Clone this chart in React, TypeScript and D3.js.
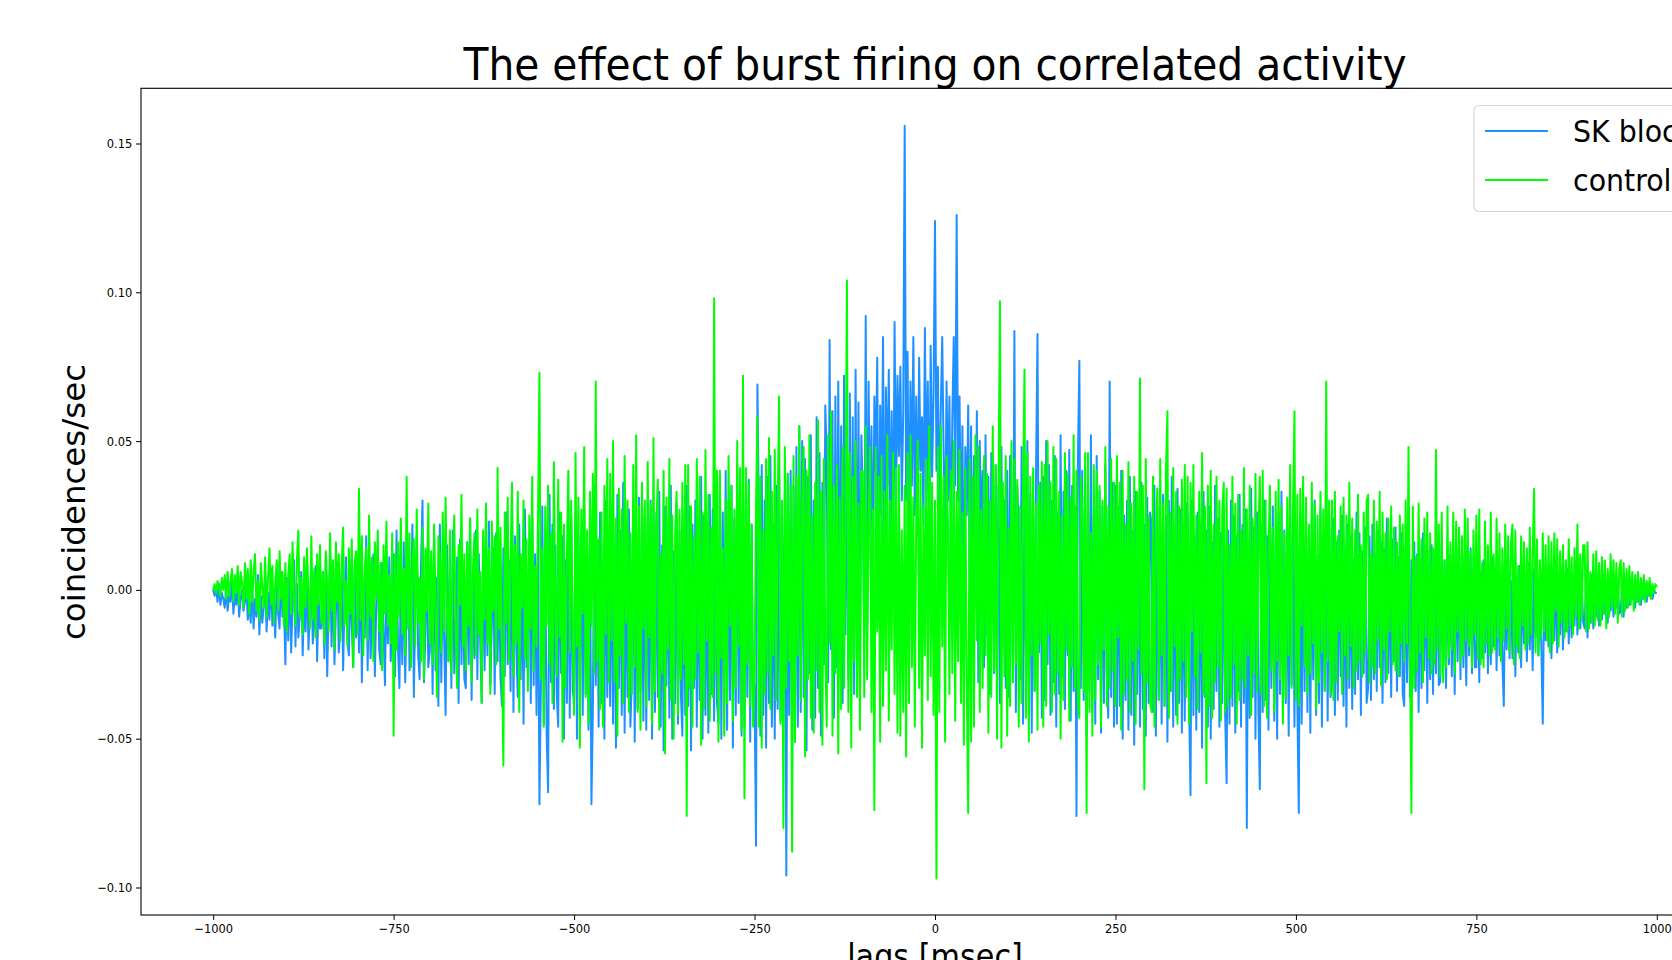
import * as d3 from "d3";
import { useEffect, useRef } from "react";

const W = 1672;
const H = 960;

// lags in msec, one sample every 2 msec
const lagStep = 2;
const lags = d3.range(-1000, 1000 + lagStep, lagStep);

const xTicks = [-1000, -750, -500, -250, 0, 250, 500, 750, 1000];
const yTicks = [-0.1, -0.05, 0, 0.05, 0.1, 0.15];

const seriesNames = ["SK blockers", "control"];
const seriesColors = ["#1e90ff", "#00ff00"];

// coincidences/sec in units of 1e-3, one row per 50 msec
const skBlockMilli = [
  0,-2,1,-4,2,-5,-1,-3,-6,1,-7,-2,-4,3,-8,-1,-5,2,-9,-3,0,-7,-4,1,-10,
  -4,-11,2,-13,-3,-9,5,-15,-2,-11,-6,4,-14,-1,-10,7,-12,-5,-16,3,-8,-13,6,-9,-4,
  -25,4,-17,8,-21,-6,10,-19,2,-16,-9,6,-22,-3,-14,9,-20,-7,5,-18,-11,8,-24,-2,-13,
  -13,6,-23,10,-29,-4,12,-19,5,-25,-8,9,-21,-14,7,-27,-3,11,-17,-22,4,-12,-26,8,-16,
  8,-21,14,-31,2,-16,18,-27,6,-23,-10,12,-29,-4,15,-20,-25,9,-14,-32,5,-18,11,-24,-7,
  12,-29,20,-19,-33,4,-25,16,-31,-8,14,-27,-12,22,-36,-5,18,-22,-30,9,30,-31,-15,13,-26,
  -21,10,-35,18,-27,4,-39,22,-31,8,-17,-42,15,-24,6,-33,20,-28,-12,11,-38,17,-25,2,-30,
  -33,16,-25,24,-37,6,-23,20,-30,12,-18,-38,18,-27,9,-22,23,-32,-12,14,-35,19,-24,7,-29,
  -39,14,-29,26,-25,10,-34,30,-41,18,-20,-36,22,-30,8,-45,27,-26,-15,16,-38,24,-32,12,-42,
  20,-72,-33,28,-45,12,-49,-68,32,-31,22,-40,15,-35,-46,26,-28,18,-50,10,-38,30,-43,24,-34,
  -37,25,-50,18,-30,20,-42,28,-35,12,-47,22,-72,-41,35,-32,16,-46,26,-38,10,-50,30,-36,19,
  -39,28,-45,15,-53,32,-33,20,-42,36,-48,14,-36,27,-46,-30,22,-51,18,-40,31,-34,12,-44,25,
  -47,24,-37,30,-50,18,-41,26,-36,33,-46,15,-54,28,-32,21,-43,35,-50,13,-38,29,-45,20,-35,
  -49,20,-42,35,-39,28,-54,22,-33,30,-46,17,-37,38,-50,25,-42,14,-48,32,-35,27,-44,19,-38,
  -45,38,-50,26,-41,40,-47,30,-37,35,-53,24,-42,42,-38,20,-49,33,-46,28,-36,37,-51,22,-40,
  -32,-86,69,25,-49,42,-42,30,-53,38,-38,45,-46,22,-50,35,-40,41,-44,28,-35,33,-96,39,-42,
  40,-59,35,-51,48,-46,55,-41,50,-36,44,-54,38,-28,52,-47,30,-43,58,-33,46,-49,36,-25,62,
  45,-31,84,-20,60,-43,65,-26,70,-21,55,-38,72,-15,48,-30,66,-24,58,-35,74,-18,63,-28,52,
  30,-16,92,-11,70,20,55,-6,65,40,78,-10,62,25,85,-4,68,35,74,15,60,5,90,28,72,
  45,75,30,60,156,30,80,10,70,35,85,25,65,18,78,40,58,22,88,32,70,12,82,38,66,
  124,40,75,20,60,85,45,15,70,30,65,10,58,85,35,126,30,65,15,55,-10,48,25,62,5,
  55,-21,45,10,60,-31,50,20,40,-26,52,-15,38,-35,46,5,-28,42,-20,35,-38,48,-12,30,-33,
  40,-36,45,10,-25,87,-41,35,20,-30,48,-45,28,-22,50,-38,32,-48,25,-34,40,86,-21,36,-43,
  38,-37,50,-25,42,-42,30,-31,45,-46,26,-35,52,-29,33,-40,40,-22,47,-44,35,-34,28,-76,44,
  77,-33,40,-37,35,-49,30,-34,52,-41,25,-45,45,-30,33,-48,28,-38,42,-28,-43,70,-36,36,-46,
  35,-45,28,-39,40,-50,25,-37,30,-47,38,-42,20,-52,33,-35,27,-46,36,-40,22,-49,31,-38,26,
  22,-41,35,-49,28,-37,20,-45,32,-39,25,-51,30,-34,38,-46,18,-42,34,-38,27,-48,21,-44,29,
  25,-38,-69,30,-42,18,-47,26,-41,22,-53,33,-36,20,-46,28,-50,16,-40,35,-34,24,-46,19,-38,
  28,-42,-65,20,-45,30,-39,25,-48,18,-34,32,-46,22,-38,27,-80,15,-43,34,-36,21,-50,26,-40,
  -67,22,-41,30,-37,18,-47,24,-33,28,-44,15,-50,26,-35,33,-42,20,-38,12,-49,29,-32,23,-46,
  20,-39,-75,26,-45,15,-34,22,-41,18,-48,24,-30,30,-42,12,-38,27,-46,16,-34,21,-44,25,-36,
  -31,24,-42,16,-37,20,-29,25,-39,14,-46,22,-33,18,-40,10,-35,26,-30,19,-42,13,-28,21,-38,
  -33,18,-37,22,-30,12,-34,20,-26,16,-38,14,-31,24,-28,9,-36,17,-24,21,-34,11,-29,19,-35,
  -39,14,-31,18,-36,10,-29,16,-34,12,-41,8,-33,19,-27,13,-38,6,-30,15,-35,11,-28,17,-32,
  -31,15,-27,10,-33,14,-25,12,-29,8,-35,13,-24,9,-30,16,-26,5,-32,11,-22,14,-28,7,-26,
  -26,12,-31,6,-23,10,-21,8,-28,5,-25,11,-19,7,-27,9,-22,4,-24,-39,6,-20,10,-23,3,
  -23,10,-29,4,-21,8,-26,6,-18,3,-24,9,-20,2,-27,7,-16,5,-22,1,-19,-45,4,-17,6,
  -19,8,-23,4,-17,6,-21,2,-15,5,-20,3,-14,7,-18,1,-16,4,-12,6,-15,2,-13,3,-11,
  -13,4,-16,2,-11,5,-13,1,-9,3,-12,2,-10,4,-8,1,-11,3,-7,0,-9,2,-6,1,-8,
  -7,2,-9,1,-6,3,-5,0,-3,1,-6,2,-4,0,-5,1,-3,2,-4,0,-2,1,-3,0,-1,
  -1,
];

const controlMilli = [
  0,2,-1,3,1,-2,4,0,5,-3,6,-2,3,7,-4,5,-1,8,-5,6,2,-6,9,-3,7,
  -8,10,-4,6,12,-7,3,-10,9,1,-6,11,-9,4,14,-5,8,-11,2,10,-7,13,-3,6,-12,
  9,-14,5,12,-8,16,-3,-12,10,20,-9,4,-15,11,-6,14,-2,-13,18,-10,7,-16,12,-5,15,
  -11,6,-18,13,2,-14,19,-7,10,-20,16,-4,12,-17,8,21,-12,3,-19,14,-8,17,-26,9,13,
  -15,34,-10,18,-22,7,14,-17,25,-9,11,-24,16,-3,20,-14,9,-27,15,-8,23,-12,5,-18,19,
  -49,12,-20,16,-9,24,-15,7,-22,38,-13,19,-26,10,17,-19,27,-11,4,-24,21,-30,14,-7,29,
  -18,13,-25,22,-6,-36,18,11,-21,26,-14,31,-9,-24,20,-28,8,25,-16,-33,15,-5,32,-19,12,
  -27,16,-12,24,-31,8,19,-22,27,-15,6,-38,20,-10,29,-18,14,-35,23,-7,18,-25,41,-13,21,
  -20,-59,26,-11,31,-24,9,36,-29,15,-18,33,-41,12,-6,30,-23,17,-34,25,-13,38,-27,8,-19,
  24,73,-30,14,-46,28,-12,35,-25,19,-38,43,-9,-29,37,-16,26,-51,22,-33,11,40,-21,30,-14,
  -42,46,-19,31,-53,27,-8,48,-36,20,-45,33,-12,39,-28,70,-24,17,-40,26,-46,35,-15,44,-31,
  39,-17,50,-31,24,-49,34,-22,27,-38,45,-11,30,-41,19,-35,42,-26,52,-41,28,-47,36,-13,30,
  -39,43,-16,29,-45,51,-34,22,37,-47,12,-28,40,-55,31,-20,44,-37,25,-50,18,33,-42,27,-30,
  36,-25,42,-76,42,-33,28,-46,18,-30,44,-21,38,-52,26,-40,47,-17,32,-44,21,-36,98,-28,40,
  -51,40,-23,14,-49,30,-38,45,-12,35,-44,27,-33,50,-19,41,-47,72,-70,41,-25,36,-39,22,-46,
  -31,28,58,-46,38,-53,20,-35,44,-28,51,-40,33,-22,47,-37,26,65,-45,30,-80,48,-33,39,-24,
  35,-88,45,-51,38,-22,55,-37,29,48,-56,40,-30,52,-43,25,-48,36,-27,57,-41,33,-52,44,-20,
  -46,52,-18,60,-49,35,-28,42,-55,31,-40,48,-33,25,104,-41,46,-53,38,-24,50,-36,29,-47,40,
  40,-36,55,-30,22,48,-41,27,-74,48,-14,38,-51,45,-39,33,-27,52,-44,30,-20,46,-35,41,-48,
  42,-49,20,-41,35,-56,46,-38,52,-26,31,-46,24,50,-33,39,-53,28,-22,44,-37,55,-29,36,-42,
  30,-97,48,-41,55,-19,38,-51,45,22,-35,40,-28,50,-44,33,-24,47,-38,26,-52,41,-30,-75,44,
  -51,38,-46,52,-17,48,-41,27,-33,45,-22,39,-48,30,-36,55,-27,42,-50,34,97,-53,36,-29,45,
  -49,21,-39,50,-31,44,-25,37,-46,28,-38,33,74,-43,46,-51,38,-22,41,-34,29,-47,35,-18,43,
  -46,42,-39,50,-15,36,-41,48,-35,44,-28,33,-50,25,-37,46,-20,39,-44,31,-26,52,-33,40,-38,
  -43,38,27,-34,46,-75,46,-41,19,-49,42,-37,40,-25,35,-46,30,-20,48,-39,28,-33,44,-27,36,
  -39,45,-16,36,-47,40,-35,22,-30,43,-41,29,-24,38,-45,33,-20,71,-28,35,-67,44,-31,25,-38,
  -41,38,-46,17,34,-37,44,-22,29,-39,40,60,-43,26,-34,41,-19,33,-45,28,-30,37,-24,42,-36,
  38,-45,36,-14,42,-29,25,-40,33,-21,46,-35,28,-65,35,-39,40,-43,22,-31,38,-26,30,-44,27,
  36,-41,34,-39,15,-36,38,-25,29,-45,32,-37,20,-30,41,-33,27,-22,35,-42,24,-28,39,-34,18,
  38,-35,40,-39,30,-43,13,35,-27,21,-41,33,-24,37,-30,28,-45,19,-36,31,-22,42,-33,26,60,
  -37,32,-39,34,-12,38,-26,31,-35,22,-28,36,-18,29,-40,25,-31,33,-21,27,-34,70,-24,30,-35,
  30,-37,33,-31,18,-14,28,-35,31,-22,25,-30,36,-19,24,-33,20,-27,32,-24,15,-29,26,-21,30,
  32,-31,12,-26,30,-28,23,-17,33,-32,26,-20,19,-30,24,-14,28,-25,21,-27,16,-29,25,-18,22,
  -24,30,-18,48,-20,-75,28,-33,11,-27,29,-21,17,-31,24,-16,26,-23,19,-28,14,-25,47,-20,22,
  -29,26,-31,10,-26,28,-23,16,-20,26,-28,23,-14,21,-25,18,-22,27,-17,24,-19,13,-26,20,-15,
  25,-23,27,-25,9,-26,23,-18,15,-22,26,-21,12,-20,24,-16,19,-24,14,-17,22,-13,18,-21,16,
  22,-25,20,-19,8,-23,18,-12,16,-20,14,-18,21,-15,12,34,-21,17,-22,10,-16,19,-14,15,-17,
  18,-21,16,-18,19,-7,17,-19,13,-11,15,-16,10,-14,17,-12,11,-15,14,-9,22,-13,12,-10,15,
  15,-14,16,-13,6,-11,12,-12,13,-10,9,-12,11,-8,10,-13,7,-9,12,-6,10,-8,9,-11,7,
  10,-9,9,-7,7,-6,8,-5,6,-7,5,-4,6,-5,4,-3,5,-4,3,-2,4,-3,2,-1,2,
  1,
];

const FONT = "DejaVu Sans";
const SQUEEZE = 0.917; // the source render is a little narrow

export default function App() {
  const ref = useRef<SVGSVGElement>(null);

  useEffect(() => {
    const svg = d3.select(ref.current);
    svg.selectAll("*").remove();

    const left = 141, right = 1729, top = 88.3, bottom = 915;

    const x = d3.scaleLinear().domain([-1100, 1100]).range([left, right]);
    const y = d3.scaleLinear().domain([-0.1, 0.15]).range([887.5, 143.5]);

    const line = d3.line<number>()
      .defined((_, i) => i < lags.length)
      .x((_, i) => x(lags[i]))
      .y(v => y(v / 1000));

    // SK first, control drawn on top
    [skBlockMilli, controlMilli].forEach((vals, k) => {
      svg.append("path")
        .datum(vals)
        .attr("fill", "none")
        .attr("stroke", seriesColors[k])
        .attr("stroke-width", 2)
        .attr("stroke-linejoin", "round")
        .attr("d", line);
    });

    // frame
    svg.append("rect")
      .attr("x", left).attr("y", top)
      .attr("width", right - left).attr("height", bottom - top)
      .attr("fill", "none")
      .attr("stroke", "#000")
      .attr("stroke-width", 1.1);

    // axes
    const gx = svg.append("g")
      .attr("transform", `translate(0,${bottom})`)
      .call(d3.axisBottom(x).tickValues(xTicks).tickFormat(d3.format("d"))
        .tickSize(5).tickPadding(4.5).tickSizeOuter(0));
    gx.select(".domain").remove();
    gx.attr("font-family", FONT).attr("font-size", 12.5);
    gx.selectAll("text").attr("fill", "#000").attr("transform", `scale(${SQUEEZE},1)`);

    const gy = svg.append("g")
      .attr("transform", `translate(${left},0)`)
      .call(d3.axisLeft(y).tickValues(yTicks).tickFormat(d3.format(".2f"))
        .tickSize(5).tickPadding(4.5).tickSizeOuter(0));
    gy.select(".domain").remove();
    gy.attr("font-family", FONT).attr("font-size", 12.5);
    gy.selectAll("text").attr("fill", "#000").attr("transform", `scale(${SQUEEZE},1)`);

    // title and labels
    svg.append("text")
      .attr("transform", `translate(935,80) scale(${SQUEEZE},1)`)
      .attr("text-anchor", "middle")
      .attr("font-family", FONT)
      .attr("font-size", 44.5)
      .text("The effect of burst firing on correlated activity");

    svg.append("text")
      .attr("transform", "translate(85,502) rotate(-90)")
      .attr("text-anchor", "middle")
      .attr("font-family", FONT)
      .attr("font-size", 32.5)
      .text("coincidences/sec");

    svg.append("text")
      .attr("transform", `translate(935,968) scale(${SQUEEZE},1)`)
      .attr("text-anchor", "middle")
      .attr("font-family", FONT)
      .attr("font-size", 33)
      .text("lags [msec]");

    // legend
    const lg = svg.append("g");
    lg.append("rect")
      .attr("x", 1474).attr("y", 105.5)
      .attr("width", 320).attr("height", 106)
      .attr("rx", 5)
      .attr("fill", "#fff").attr("fill-opacity", 0.8)
      .attr("stroke", "#d6d6d6").attr("stroke-width", 1.2);
    seriesNames.forEach((name, k) => {
      const cy = 131 + k * 49;
      lg.append("line")
        .attr("x1", 1485).attr("x2", 1548)
        .attr("y1", cy).attr("y2", cy)
        .attr("stroke", seriesColors[k]).attr("stroke-width", 2);
      lg.append("text")
        .attr("transform", `translate(1573,${cy + 11}) scale(${SQUEEZE},1)`)
        .attr("font-family", FONT)
        .attr("font-size", 31)
        .text(name);
    });
  }, []);

  return (
    <svg
      ref={ref}
      width={W}
      height={H}
      style={{ position: "absolute", left: 0, top: 0, background: "#fff" }}
    />
  );
}
